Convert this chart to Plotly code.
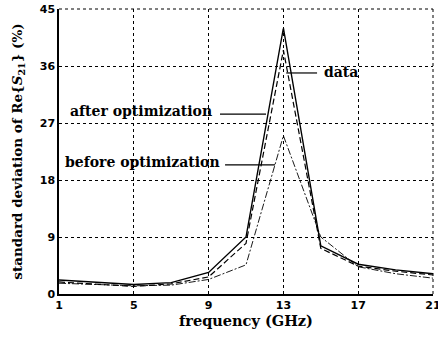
import plotly.graph_objects as go

freq = [1, 3, 5, 7, 9, 11, 13, 15, 17, 19, 21]
after_opt = [2.2, 1.9, 1.5, 1.8, 3.4, 9.0, 42.0, 7.6, 4.7, 3.8, 3.2]
data_vals = [1.9, 1.6, 1.2, 1.6, 2.7, 8.0, 38.5, 7.2, 4.4, 3.6, 3.0]
before_opt = [1.7, 1.5, 1.3, 1.4, 2.3, 4.6, 25.0, 9.0, 4.3, 3.2, 2.5]

x_ticks = [1, 5, 9, 13, 17, 21]
y_ticks = [0, 9, 18, 27, 36, 45]

serif = "DejaVu Serif"
sans = "DejaVu Sans"

fig = go.Figure()
fig.add_trace(go.Scatter(x=freq, y=after_opt, mode="lines",
                         line=dict(color="black", width=1.4, dash="solid")))
fig.add_trace(go.Scatter(x=freq, y=data_vals, mode="lines",
                         line=dict(color="black", width=1.2, dash="6px,3px")))
fig.add_trace(go.Scatter(x=freq, y=before_opt, mode="lines",
                         line=dict(color="black", width=0.9, dash="7px,2px,2px,2px")))

# top and right dotted frame
fig.add_shape(type="line", xref="paper", yref="paper", x0=0, x1=1, y0=1, y1=1,
              line=dict(color="black", width=1, dash="dot"))
fig.add_shape(type="line", xref="paper", yref="paper", x0=1, x1=1, y0=0, y1=1,
              line=dict(color="black", width=1, dash="dot"))

# label leader lines
fig.add_shape(type="line", x0=13.15, x1=14.8, y0=34.9, y1=34.9, line=dict(color="black", width=1.2))
fig.add_shape(type="line", x0=9.61, x1=12.07, y0=28.4, y1=28.4, line=dict(color="black", width=1.2))
fig.add_shape(type="line", x0=9.88, x1=12.55, y0=20.4, y1=20.4, line=dict(color="black", width=1.2))

fig.add_annotation(x=15.05, y=35.1, text="<b>data</b>", showarrow=False,
                   xanchor="left", yanchor="middle", font=dict(family=serif, size=14, color="black"))
fig.add_annotation(x=9.3, y=28.9, text="<b>after optimization</b>", showarrow=False,
                   xanchor="right", yanchor="middle", font=dict(family=serif, size=14, color="black"))
fig.add_annotation(x=9.7, y=20.9, text="<b>before optimization</b>", showarrow=False,
                   xanchor="right", yanchor="middle", font=dict(family=serif, size=14, color="black"))

fig.update_layout(
    width=438, height=339,
    margin=dict(l=59, r=5, t=9, b=45, autoexpand=False),
    paper_bgcolor="white", plot_bgcolor="white",
    showlegend=False,
    xaxis=dict(range=[1, 21], tickvals=x_ticks, ticktext=[f"<b>{v}</b>" for v in x_ticks],
               showgrid=True, gridcolor="black", griddash="dot", gridwidth=1,
               showline=True, linecolor="black", linewidth=1.5, mirror=False,
               ticks="", zeroline=False, ticklabeloverflow="allow", automargin=False,
               tickfont=dict(family=sans, size=11, color="black"),
               title=dict(text="<b>frequency (GHz)</b>", font=dict(family=serif, size=14.5, color="black"), standoff=5)),
    yaxis=dict(range=[0, 45], tickvals=y_ticks, ticktext=[f"<b>{v}</b>" for v in y_ticks],
               showgrid=True, gridcolor="black", griddash="dot", gridwidth=1,
               showline=True, linecolor="black", linewidth=1.5,
               ticks="", zeroline=False, ticklabeloverflow="allow", automargin=False,
               tickfont=dict(family=sans, size=11, color="black"),
               title=dict(text="<b>standard deviation of Re{<i>S</i><sub>21</sub>} (%)</b>",
                          font=dict(family=serif, size=13.5, color="black"), standoff=14)),
)

fig.write_html("out.html")
